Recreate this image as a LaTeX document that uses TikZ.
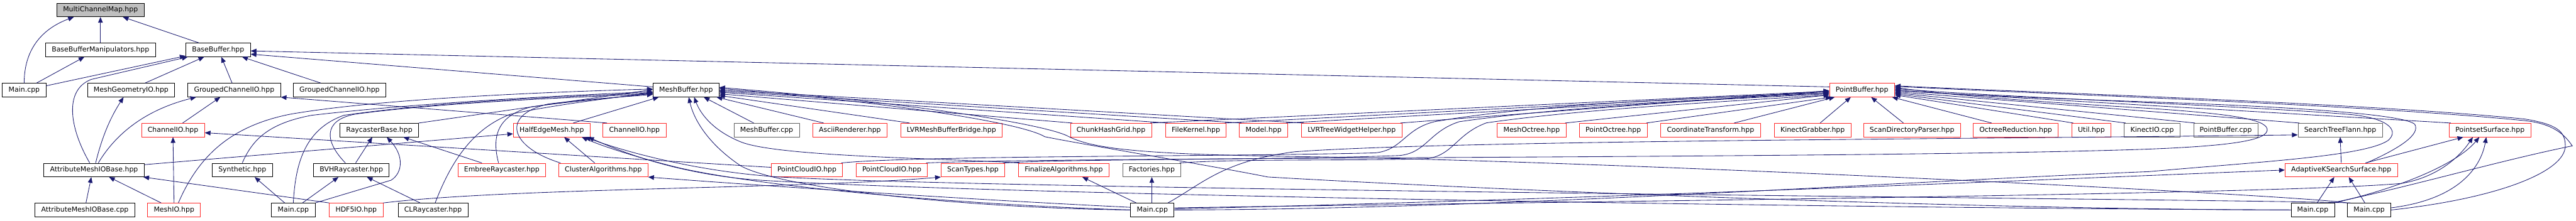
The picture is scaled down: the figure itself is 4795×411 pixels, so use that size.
\documentclass[tikz,border=0pt]{standalone}
\usepackage{fontspec}
\setmainfont{DejaVu Sans}
\usepackage{tikz}
\usetikzlibrary{arrows.meta,calc}
\definecolor{edgeBlue}{HTML}{191970}
\definecolor{truncRed}{HTML}{FF2A2A}
\definecolor{rootGrey}{HTML}{BFBFBF}
\definecolor{leafGrey}{HTML}{606060}

\begin{document}
\begin{tikzpicture}[
      x=0.75pt, y=-0.75pt,
      filebox/.style={
        rectangle, draw=black, fill=white, line width=0.75pt,
        font=\fontsize{9.6pt}{11pt}\selectfont,
        inner xsep=8.6pt, inner ysep=0pt, minimum height=19pt,
        text height=7.3pt, text depth=2.1pt
      },
      redbox/.style={filebox, draw=truncRed},
      leafbox/.style={filebox, draw=leafGrey},
      rootbox/.style={filebox, fill=rootGrey},
      incl/.style={draw=edgeBlue, line width=0.75pt, -{Triangle[length=8pt,width=6.5pt]}}
    ]
      \useasboundingbox (0,0) rectangle (4795,411);
      \fill[white] (0,0) rectangle (4795,411);

      % rank 0 and 1
      \node[rootbox] (multiMap) at (187,18.5) {MultiChannelMap.hpp};
      \node[filebox] (bbManip) at (187,93) {BaseBufferManipulators.hpp};
      \node[filebox] (baseBuf) at (406,93) {BaseBuffer.hpp};

      % rank 2
      \node[filebox] (mainA) at (45,168) {Main.cpp};
      \node[filebox] (meshGeoIO) at (244,168) {MeshGeometryIO.hpp};
      \node[filebox] (grpChA) at (436,168) {GroupedChannelIO.hpp};
      \node[filebox] (grpChB) at (632,168) {GroupedChannelIO.hpp};
      \node[filebox] (meshBuf) at (1277,168) {MeshBuffer.hpp};
      \node[redbox] (pointBuf) at (3466,168) {PointBuffer.hpp};

      % rank 3
      \node[redbox] (chanIOA) at (322,242.5) {ChannelIO.hpp};
      \node[filebox] (rayBase) at (706,242.5) {RaycasterBase.hpp};
      \node[redbox] (halfEdge) at (1027,242.5) {HalfEdgeMesh.hpp};
      \node[redbox] (chanIOB) at (1181,242.5) {ChannelIO.hpp};
      \node[leafbox] (meshBufCpp) at (1427,242.5) {MeshBuffer.cpp};
      \node[redbox] (asciiRend) at (1582,242.5) {AsciiRenderer.hpp};
      \node[redbox] (lvrBridge) at (1771,242.5) {LVRMeshBufferBridge.hpp};
      \node[redbox] (chunkGrid) at (2068,242.5) {ChunkHashGrid.hpp};
      \node[redbox] (fileKernel) at (2226,242.5) {FileKernel.hpp};
      \node[redbox] (model) at (2352,242.5) {Model.hpp};
      \node[redbox] (treeHelper) at (2516,242.5) {LVRTreeWidgetHelper.hpp};
      \node[redbox] (meshOct) at (2851,242.5) {MeshOctree.hpp};
      \node[redbox] (pointOct) at (3003,242.5) {PointOctree.hpp};
      \node[redbox] (coordTf) at (3184,242.5) {CoordinateTransform.hpp};
      \node[redbox] (kinGrab) at (3374,242.5) {KinectGrabber.hpp};
      \node[redbox] (scanDir) at (3559,242.5) {ScanDirectoryParser.hpp};
      \node[redbox] (octRed) at (3752,242.5) {OctreeReduction.hpp};
      \node[redbox] (util) at (3893,242.5) {Util.hpp};
      \node[leafbox] (kinIO) at (4006,242.5) {KinectIO.cpp};
      \node[leafbox] (pointBufCpp) at (4143,242.5) {PointBuffer.cpp};
      \node[leafbox] (searchTree) at (4356,242.5) {SearchTreeFlann.hpp};
      \node[redbox] (psSurf) at (4635,242.5) {PointsetSurface.hpp};

      % rank 4
      \node[filebox] (attrBase) at (175,317) {AttributeMeshIOBase.hpp};
      \node[filebox] (synth) at (451,317) {Synthetic.hpp};
      \node[filebox] (bvhRay) at (654,317) {BVHRaycaster.hpp};
      \node[redbox] (embreeRay) at (934,317) {EmbreeRaycaster.hpp};
      \node[redbox] (clusterAlg) at (1123,317) {ClusterAlgorithms.hpp};
      \node[redbox] (pcIOA) at (1502,317) {PointCloudIO.hpp};
      \node[redbox] (pcIOB) at (1660,317) {PointCloudIO.hpp};
      \node[redbox] (scanTypes) at (1811,317) {ScanTypes.hpp};
      \node[redbox] (finalize) at (1980,317) {FinalizeAlgorithms.hpp};
      \node[leafbox] (factories) at (2144,317) {Factories.hpp};
      \node[redbox] (adaptK) at (4358,317) {AdaptiveKSearchSurface.hpp};

      % rank 5
      \node[filebox] (attrBaseCpp) at (158,391.5) {AttributeMeshIOBase.cpp};
      \node[redbox] (meshIO) at (324,391.5) {MeshIO.hpp};
      \node[filebox] (mainB) at (546,391.5) {Main.cpp};
      \node[redbox] (hdf5) at (663,391.5) {HDF5IO.hpp};
      \node[filebox] (clRay) at (806,391.5) {CLRaycaster.hpp};
      \node[filebox] (mainC) at (2145,391.5) {Main.cpp};
      \node[filebox] (mainD) at (4305,391.5) {Main.cpp};
      \node[filebox] (mainE) at (4410,391.5) {Main.cpp};

      % MultiChannelMap, BaseBuffer
      \draw[incl] (mainA.north) .. controls (45,95) and (75,55) .. ($(multiMap.south west)+(32,0)$);
      \draw[incl] (bbManip.north) -- (multiMap.south);
      \draw[incl] ($(baseBuf.north)+(-36,0)$) -- ($(multiMap.south east)+(-40,0)$);
      \draw[incl] ($(mainA.north)+(23,0)$) -- ($(bbManip.south)+(-30,0)$);
      \draw[incl] ($(mainA.east)+(0,-8)$) -- ($(baseBuf.south west)+(0,-2)$);
      \draw[incl] ($(attrBase.north)+(-8,0)$) .. controls (130,240) and (118,168) .. (170,148) -- ($(baseBuf.south west)+(4,0)$);
      \draw[incl] ($(meshGeoIO.north)+(26,0)$) -- ($(baseBuf.south)+(-26,0)$);
      \draw[incl] ($(grpChA.north)+(-4,0)$) -- ($(baseBuf.south)+(6,0)$);
      \draw[incl] ($(grpChB.north)+(-35,0)$) -- ($(baseBuf.south east)+(-16,0)$);
      \draw[incl] ($(meshBuf.west)+(0,-6)$) -- ($(baseBuf.east)+(0,8)$);
      \draw[incl] ($(pointBuf.west)+(0,-6)$) -- ($(baseBuf.east)+(0,2)$);

      % io layer
      \draw[incl] ($(attrBase.north)+(3,0)$) .. controls (190,255) and (205,220) .. ($(meshGeoIO.south)+(-14,0)$);
      \draw[incl] ($(attrBase.north)+(8,0)$) .. controls (215,250) and (270,205) .. ($(grpChA.south)+(-71,0)$);
      \draw[incl] ($(chanIOA.north)+(18,0)$) -- ($(grpChA.south)+(-26,0)$);
      \draw[incl] ($(chanIOB.north west)+(8,0)$) -- (grpChA.south east);
      \draw[incl] (meshIO.north) -- (chanIOA.south);
      \draw[incl] ($(pcIOA.west)+(0,-5)$) -- ($(chanIOA.east)+(0,5)$);
      \draw[incl] ($(attrBaseCpp.north)+(2,0)$) -- ($(attrBase.south)+(-5,0)$);
      \draw[incl] ($(meshIO.north)+(-24,0)$) -- ($(attrBase.south)+(28,0)$);
      \draw[incl] (hdf5.north west) -- ($(attrBase.south east)+(-2,0)$);
      \draw[incl] ($(mainB.north)+(-16,0)$) -- ($(synth.south)+(23,0)$);
      \draw[incl] (hdf5.north east) .. controls (950,350) and (1500,352) .. (scanTypes.south west);

      % raycaster
      \draw[incl] ($(bvhRay.north)+(8,0)$) -- ($(rayBase.south)+(-13,0)$);
      \draw[incl] (mainB.north east) -- (728,336) .. controls (750,322) and (752,290) .. ($(rayBase.south)+(14,0)$);
      \draw[incl] ($(embreeRay.north)+(-37,0)$) -- ($(rayBase.south east)+(-29,0)$);
      \draw[incl] ($(mainB.north)+(17,0)$) -- ($(bvhRay.south)+(-24,0)$);
      \draw[incl] ($(clRay.north)+(-24,0)$) -- ($(bvhRay.south)+(29,0)$);

      % HalfEdgeMesh
      \draw[incl] ($(attrBase.east)+(0,-10)$) -- ($(halfEdge.west)+(0,7)$);
      \draw[incl] ($(clusterAlg.north)+(-16,0)$) -- ($(halfEdge.south)+(23,0)$);
      \draw[incl] (mainC.west) .. controls (1750,380) and (1400,345) .. (1260,312) .. controls (1180,292) and (1120,272) .. ($(halfEdge.south east)+(-16,0)$);
      \draw[incl] (mainD.west) .. controls (3400,388) and (1800,362) .. (1400,335) .. controls (1250,322) and (1150,280) .. ($(halfEdge.south east)+(-4,0)$);
      \draw[incl] ($(mainE.north west)+(6,0)$) .. controls (4200,372) and (1900,355) .. (1450,330) .. controls (1300,320) and (1170,285) .. ($(halfEdge.south east)+(-10,0)$);
      \draw[incl] ($(mainC.west)+(0,-5)$) .. controls (1800,372) and (1400,345) .. (clusterAlg.south east);

      % MeshBuffer, left side
      \draw[incl] (synth.north) .. controls (470,260) and (500,230) .. (580,215) .. controls (750,195) and (1000,180) .. ($(meshBuf.west)+(0,3)$);
      \draw[incl] ($(meshIO.north)+(8,0)$) .. controls (370,290) and (430,235) .. (540,213) .. controls (700,185) and (1000,172) .. ($(meshBuf.west)+(0,-2)$);
      \draw[incl] (mainB.north) .. controls (550,300) and (570,240) .. (640,215) .. controls (800,192) and (1000,182) .. ($(meshBuf.west)+(0,5)$);
      \draw[incl] ($(bvhRay.north)+(-11,0)$) .. controls (605,265) and (600,225) .. (660,213) .. controls (800,194) and (1000,184) .. ($(meshBuf.west)+(0,7)$);
      \draw[incl] (rayBase.north east) -- ($(meshBuf.west)+(0,-1)$);
      \draw[incl] ($(clRay.north)+(4,0)$) .. controls (840,300) and (880,240) .. (950,213) .. controls (1050,192) and (1150,182) .. ($(meshBuf.west)+(0,4)$);
      \draw[incl] ($(embreeRay.north)+(-6,0)$) .. controls (915,255) and (925,215) .. (990,199) .. controls (1080,187) and (1150,182) .. ($(meshBuf.west)+(0,6)$);
      \draw[incl] ($(clusterAlg.north west)+(4,0)$) .. controls (950,275) and (930,215) .. (1020,194) .. controls (1100,184) and (1170,180) .. ($(meshBuf.west)+(0,8)$);
      \draw[incl] ($(halfEdge.north)+(40,0)$) -- ($(meshBuf.south west)+(11,0)$);

      % MeshBuffer, right side
      \draw[incl] ($(meshBufCpp.north)+(-24,0)$) -- ($(meshBuf.south)+(33,0)$);
      \draw[incl] ($(asciiRend.north)+(-49,0)$) -- ($(meshBuf.south east)+(-5,0)$);
      \draw[incl] ($(lvrBridge.north west)+(17,0)$) -- ($(meshBuf.east)+(0,10)$);
      \draw[incl] ($(chunkGrid.north west)+(4,0)$) -- ($(meshBuf.east)+(0,7)$);
      \draw[incl] ($(fileKernel.north west)+(4,0)$) -- ($(meshBuf.east)+(0,4)$);
      \draw[incl] ($(model.north west)+(4,0)$) -- ($(meshBuf.east)+(0,2)$);
      \draw[incl] ($(treeHelper.north west)+(4,0)$) -- (meshBuf.east);
      \draw[incl] (mainC.west) .. controls (1800,388) and (1460,352) .. (1380,310) .. controls (1320,270) and (1292,225) .. ($(meshBuf.south)+(5,0)$);
      \draw[incl] ($(finalize.north west)+(2,0)$) .. controls (1750,295) and (1450,292) .. (1380,265) .. controls (1330,245) and (1305,215) .. ($(meshBuf.south)+(15,0)$);
      \draw[incl] (mainD.west) .. controls (3600,390) and (2700,350) .. (2360,330) .. controls (2260,310) and (2020,270) .. (1945,255) .. controls (1900,228) and (1650,190) .. ($(meshBuf.east)+(0,-3)$);
      \draw[incl] (mainE.north west) .. controls (4300,365) and (3000,300) .. (2420,292) .. controls (2150,288) and (2040,280) .. (1990,255) .. controls (1950,232) and (1700,192) .. ($(meshBuf.east)+(0,-5)$);

      % PointBuffer, left side
      \draw[incl] ($(chunkGrid.north east)+(-3,0)$) -- ($(pointBuf.west)+(0,2)$);
      \draw[incl] ($(fileKernel.north east)+(-3,0)$) -- ($(pointBuf.west)+(0,3)$);
      \draw[incl] ($(model.north east)+(-3,0)$) -- ($(pointBuf.west)+(0,5)$);
      \draw[incl] ($(treeHelper.north east)+(-3,0)$) -- ($(pointBuf.west)+(0,1)$);
      \draw[incl] ($(meshOct.north east)+(-2,0)$) -- ($(pointBuf.west)+(0,9)$);
      \draw[incl] ($(pointOct.north east)+(-2,0)$) -- ($(pointBuf.south west)+(4,0)$);
      \draw[incl] ($(coordTf.north)+(44,0)$) -- ($(pointBuf.south west)+(10,0)$);
      \draw[incl] ($(kinGrab.north)+(14,0)$) -- ($(pointBuf.south)+(-21,0)$);
      \draw[incl] ($(scanDir.north)+(-16,0)$) -- ($(pointBuf.south)+(17,0)$);
      \draw[incl] ($(octRed.north)+(-45,0)$) -- ($(pointBuf.south east)+(-5,0)$);
      \draw[incl] ($(pcIOA.north east)+(-3,0)$) .. controls (1700,290) and (2300,292) .. (2560,285) .. controls (2610,280) and (2615,240) .. (2670,227) .. controls (2850,195) and (3150,183) .. ($(pointBuf.west)+(0,5)$);
      \draw[incl] ($(scanTypes.north east)+(-3,0)$) .. controls (2000,296) and (2400,298) .. (2605,290) .. controls (2655,285) and (2660,245) .. (2716,227) .. controls (2900,200) and (3180,186) .. ($(pointBuf.west)+(0,7)$);
      \draw[incl] ($(factories.north east)+(-3,0)$) .. controls (2300,296) and (2500,300) .. (2655,296) .. controls (2705,290) and (2710,250) .. (2767,229) .. controls (2950,203) and (3200,190) .. ($(pointBuf.west)+(0,9)$);

      % PointBuffer, right side
      \draw[incl] ($(util.north west)+(3,0)$) -- ($(pointBuf.east)+(0,9)$);
      \draw[incl] ($(kinIO.north west)+(3,0)$) -- ($(pointBuf.east)+(0,7)$);
      \draw[incl] ($(pointBufCpp.north west)+(3,0)$) -- ($(pointBuf.east)+(0,5)$);
      \draw[incl] ($(searchTree.north west)+(3,0)$) -- ($(pointBuf.east)+(0,3)$);
      \draw[incl] ($(psSurf.north west)+(3,0)$) -- ($(pointBuf.east)+(0,1)$);
      \draw[incl] ($(adaptK.north)+(47,0)$) .. controls (4470,275) and (4505,250) .. (4495,232) .. controls (4480,215) and (4300,200) .. (4000,190) .. controls (3800,183) and (3600,175) .. ($(pointBuf.east)+(0,-1)$);
      \draw[incl] (mainC.east) .. controls (2800,390) and (3500,340) .. (4000,320) .. controls (4200,302) and (4400,292) .. (4445,262) .. controls (4465,245) and (4450,222) .. (4380,214) .. controls (4200,198) and (3700,180) .. ($(pointBuf.east)+(0,-3)$);
      \draw[incl] ($(pcIOB.north east)+(-3,0)$) .. controls (2000,292) and (3500,296) .. (4000,278) .. controls (4150,272) and (4225,262) .. (4220,240) .. controls (4215,222) and (4150,212) .. (4000,202) .. controls (3800,190) and (3650,180) .. ($(pointBuf.east)+(0,-5)$);
      \draw[incl] ($(mainD.north east)+(-6,0)$) .. controls (4480,350) and (4650,300) .. (4788,272) .. controls (4770,245) and (4745,230) .. (4700,225) .. controls (4400,195) and (3800,175) .. ($(pointBuf.east)+(0,-7)$);
      \draw[incl] (mainE.east) .. controls (4650,370) and (4775,320) .. (4775,272) .. controls (4775,245) and (4760,232) .. (4700,222) .. controls (4400,192) and (3800,173) .. ($(pointBuf.east)+(0,-8)$);

      % surfaces and search tree
      \draw[incl] ($(adaptK.north)+(45,0)$) -- ($(psSurf.south)+(-50,0)$);
      \draw[incl] ($(mainC.east)+(0,-4)$) .. controls (3000,375) and (4250,362) .. (4470,342) .. controls (4540,330) and (4580,290) .. ($(psSurf.south)+(-32,0)$);
      \draw[incl] ($(mainD.north east)+(-2,0)$) .. controls (4450,355) and (4570,310) .. ($(psSurf.south)+(-20,0)$);
      \draw[incl] ($(mainE.east)+(0,-4)$) .. controls (4590,370) and (4620,300) .. ($(psSurf.south)+(-7,0)$);
      \draw[incl] ($(mainD.north)+(8,0)$) -- ($(adaptK.south)+(-13,0)$);
      \draw[incl] ($(mainE.north)+(-8,0)$) -- ($(adaptK.south)+(14,0)$);
      \draw[incl] ($(mainC.east)+(0,-2)$) .. controls (3000,370) and (3800,335) .. (adaptK.west);
      \draw[incl] (adaptK.north) -- (searchTree.south);
      \draw[incl] ($(mainC.north east)+(-12,0)$) .. controls (2235,345) and (2275,300) .. (2410,283) .. controls (2700,262) and (3600,260) .. ($(searchTree.west)+(0,9)$);

      % Main.cpp of rank 5 to its row-4 neighbours
      \draw[incl] ($(mainC.north)+(-30,0)$) -- ($(finalize.south east)+(-50,0)$);
      \draw[incl] ($(mainC.north)+(-1,0)$) -- (factories.south);
    \end{tikzpicture}
\end{document}
